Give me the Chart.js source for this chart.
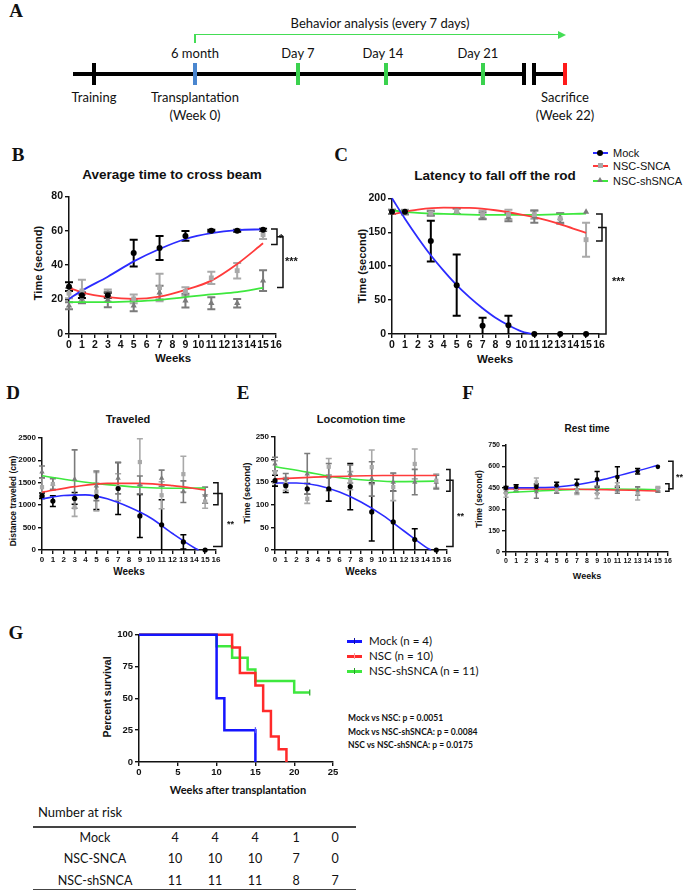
<!DOCTYPE html>
<html>
<head>
<meta charset="utf-8">
<title>Behavior and survival after NSC transplantation</title>
<script src="https://cdn.jsdelivr.net/npm/chart.js@4.4.1/dist/chart.umd.min.js"></script>
<style>
  body { margin: 0; background: #fff; }
  #page { position: relative; width: 685px; height: 892px; overflow: hidden; background: #fff; color: #111;
          font-family: "Liberation Sans", Arial, sans-serif; }
  #page canvas { position: absolute; }
  .t { position: absolute; white-space: nowrap; transform: translate(-50%, -50%); line-height: 1; }
  .l { position: absolute; white-space: nowrap; transform: translate(0, -50%); line-height: 1; }
  .v { position: absolute; white-space: nowrap; transform: translate(-50%, -50%) rotate(-90deg); line-height: 1; font-weight: bold; }
  .letter { font-family: "Liberation Serif", "Times New Roman", serif; font-weight: bold; font-size: 19px; }
  .cal { font-family: Lato, "Open Sans", sans-serif; }
  .b { font-weight: bold; }
  .bar { position: absolute; }
</style>
</head>
<body>
<div id="page">
  <!-- A: timeline -->
  <div class="t letter" style="left:16px;top:10px">A</div>
  <div class="t cal" style="left:380px;top:23px;font-size:13px">Behavior analysis (every 7 days)</div>
  <div class="bar" style="left:194px;top:34px;width:1.5px;height:9px;background:#44dd55"></div>
  <div class="bar" style="left:194px;top:33.5px;width:366px;height:1.5px;background:#44dd55"></div>
  <div class="bar" style="left:558px;top:30.5px;width:0;height:0;border-top:4px solid transparent;border-bottom:4px solid transparent;border-left:8px solid #44dd55"></div>
  <div class="t cal" style="left:195px;top:53px;font-size:13px">6 month</div>
  <div class="t cal" style="left:298px;top:53px;font-size:13px">Day 7</div>
  <div class="t cal" style="left:383px;top:53px;font-size:13px">Day 14</div>
  <div class="t cal" style="left:478px;top:53px;font-size:13px">Day 21</div>
  <div class="bar" style="left:73px;top:72px;width:452px;height:4px;background:#000"></div>
  <div class="bar" style="left:532px;top:72px;width:33px;height:4px;background:#000"></div>
  <div class="bar" style="left:92px;top:63px;width:4px;height:22px;background:#000"></div>
  <div class="bar" style="left:193px;top:63px;width:4px;height:22px;background:#4a86cf"></div>
  <div class="bar" style="left:296px;top:63px;width:4px;height:22px;background:#3ad24e"></div>
  <div class="bar" style="left:384px;top:63px;width:4px;height:22px;background:#3ad24e"></div>
  <div class="bar" style="left:481px;top:63px;width:4px;height:22px;background:#3ad24e"></div>
  <div class="bar" style="left:522px;top:63px;width:4px;height:22px;background:#000"></div>
  <div class="bar" style="left:532px;top:63px;width:4px;height:22px;background:#000"></div>
  <div class="bar" style="left:563px;top:63px;width:4px;height:22px;background:#ff1a1a"></div>
  <div class="t cal" style="left:94px;top:97px;font-size:13px">Training</div>
  <div class="t cal" style="left:195px;top:97px;font-size:13px">Transplantation</div>
  <div class="t cal" style="left:195px;top:115px;font-size:13px">(Week 0)</div>
  <div class="t cal" style="left:565px;top:97px;font-size:13px">Sacrifice</div>
  <div class="t cal" style="left:565px;top:115px;font-size:13px">(Week 22)</div>

  <!-- panel letters, titles, axis titles -->
  <div class="t letter" style="left:18px;top:154px">B</div>
  <div class="t letter" style="left:341px;top:154px">C</div>
  <div class="t letter" style="left:13px;top:392px">D</div>
  <div class="t letter" style="left:243px;top:392px">E</div>
  <div class="t letter" style="left:468px;top:392px">F</div>
  <div class="t letter" style="left:16px;top:632px">G</div>

  <div class="t b" style="left:172px;top:175px;font-size:13.5px">Average time to cross beam</div>
  <div class="t b" style="left:495px;top:176px;font-size:13.5px">Latency to fall off the rod</div>
  <div class="t b" style="left:128px;top:419px;font-size:11px">Traveled</div>
  <div class="t b" style="left:361px;top:419px;font-size:11px">Locomotion time</div>
  <div class="t b" style="left:587px;top:429px;font-size:10px">Rest time</div>

  <div class="v" style="left:38px;top:263px;font-size:11px">Time (second)</div>
  <div class="v" style="left:362px;top:266px;font-size:11px">Time (second)</div>
  <div class="v" style="left:13px;top:501px;font-size:8.5px">Distance traveled (cm)</div>
  <div class="v" style="left:247px;top:493px;font-size:9px">Time (second)</div>
  <div class="v" style="left:479px;top:499px;font-size:8.5px">Time (second)</div>
  <div class="v" style="left:107px;top:697px;font-size:10.5px">Percent survival</div>

  <div class="t b" style="left:173px;top:359px;font-size:11.5px">Weeks</div>
  <div class="t b" style="left:495px;top:360px;font-size:11.5px">Weeks</div>
  <div class="t b" style="left:129px;top:572px;font-size:10px">Weeks</div>
  <div class="t b" style="left:361px;top:572px;font-size:10px">Weeks</div>
  <div class="t b" style="left:587px;top:576px;font-size:9px">Weeks</div>
  <div class="t cal b" style="left:238px;top:789px;font-size:11px">Weeks after transplantation</div>

  <!-- C legend -->
  <div class="bar" style="left:593px;top:152.3px;width:15px;height:1.5px;background:#2b2bff"></div>
  <div class="bar" style="left:597px;top:150px;width:6px;height:6px;border-radius:50%;background:#000"></div>
  <div class="l" style="left:613px;top:153px;font-size:11px">Mock</div>
  <div class="bar" style="left:593px;top:165.3px;width:15px;height:1.5px;background:#ff3b3b"></div>
  <div class="bar" style="left:597.5px;top:163px;width:5px;height:5px;background:#a9a9a9"></div>
  <div class="l" style="left:613px;top:166px;font-size:11px">NSC-SNCA</div>
  <div class="bar" style="left:593px;top:180.3px;width:15px;height:1.5px;background:#3ee83e"></div>
  <div class="bar" style="left:597px;top:176.5px;width:0;height:0;border-left:3px solid transparent;border-right:3px solid transparent;border-bottom:5px solid #7b7b7b"></div>
  <div class="l" style="left:613px;top:181px;font-size:11px">NSC-shSNCA</div>

  <!-- G legend and statistics -->
  <div class="bar" style="left:347px;top:640px;width:15px;height:2.5px;background:#1515ff"></div>
  <div class="bar" style="left:354px;top:638px;width:1.2px;height:6px;background:#1010a0"></div>
  <div class="l cal" style="left:369px;top:641px;font-size:11.5px">Mock (n = 4)</div>
  <div class="bar" style="left:347px;top:655px;width:15px;height:2.5px;background:#ff2a2a"></div>
  <div class="bar" style="left:354px;top:653px;width:1.2px;height:6px;background:#ff9a9a"></div>
  <div class="l cal" style="left:369px;top:656px;font-size:11.5px">NSC (n = 10)</div>
  <div class="bar" style="left:347px;top:670px;width:15px;height:2.5px;background:#3ee83e"></div>
  <div class="bar" style="left:354px;top:668px;width:1.2px;height:6px;background:#2a9a2a"></div>
  <div class="l cal" style="left:369px;top:671px;font-size:11.5px">NSC-shSNCA (n = 11)</div>
  <div class="l cal b" style="left:348px;top:718px;font-size:8.5px">Mock vs NSC: p = 0.0051</div>
  <div class="l cal b" style="left:348px;top:731.5px;font-size:8.5px">Mock vs NSC-shSNCA: p = 0.0084</div>
  <div class="l cal b" style="left:348px;top:744.5px;font-size:8.5px">NSC vs NSC-shSNCA: p = 0.0175</div>

  <!-- number at risk -->
  <div class="l cal" style="left:38px;top:812px;font-size:13px">Number at risk</div>
  <div class="bar" style="left:33px;top:826px;width:323px;height:1.5px;background:#444"></div>
  <div class="bar" style="left:33px;top:888.5px;width:323px;height:1.5px;background:#444"></div>
  <div id="riskTable"></div>

  <canvas id="beamChart"></canvas>
  <canvas id="rodChart"></canvas>
  <canvas id="distChart"></canvas>
  <canvas id="locoChart"></canvas>
  <canvas id="restChart"></canvas>
  <canvas id="survChart"></canvas>
</div>

<script>
// weeks at which behavior was tested
const weeks = [0, 1, 3, 5, 7, 9, 11, 13, 15];

// B - average time to cross beam (s)
const beamMock = [27.5, 22.5, 22.5, 47, 50, 57, 60, 60, 60.5];
const beamMockErr = [2.5, 1.6, 1.5, 7.8, 7, 2.8, 0.6, 0.6, 0.6];
const beamSnca = [23.7, 25, 22.3, 20.4, 27, 24.7, 32.6, 36.8, 57.7];
const beamSncaErr = [3, 6.5, 3.5, 2.5, 8, 2.5, 3.5, 4.5, 2.5];
const beamSh = [16.4, 20.4, 20, 16.4, 24, 19.4, 17.9, 17.9, 31];
const beamShErr = [2, 2.5, 4.5, 3.2, 4, 4, 3.5, 2.5, 6];
const beamFitMock = [20.4, 25.2, 33.3, 42.2, 49.4, 55.2, 58.6, 60.4, 60.8];
const beamFitSnca = [26.8, 24.2, 21.4, 20.4, 21.7, 25.6, 31, 40.7, 52.7];
const beamFitSh = [18.5, 18.5, 18.5, 18.9, 19.8, 21.4, 23, 24.3, 26.8];

// C - latency to fall off the rod (s)
const rodMock = [180, 180, 137, 72, 12, 13, 0, 0, 0];
const rodMockErr = [0, 0, 30, 45, 12, 14, 0, 0, 0];
const rodSnca = [180, 180, 178, 181, 176, 176, 176, 170, 139];
const rodSncaErr = [3, 3, 4, 4, 6, 7, 6, 8, 25];
const rodSh = [180, 179, 178, 181, 174, 172, 173, 171, 180];
const rodShErr = [3, 3, 3, 4, 5, 6, 9, 7, 0];
const rodFitMockWeeks = [0, 1, 2, 3, 4, 5, 6, 7, 8, 9, 10, 10.8];
const rodFitMock = [200, 170, 142, 116, 93, 72, 54, 38, 24, 13, 4, 0];
const rodFitWeeks = [0, 2, 4, 6, 8, 10, 12, 14, 15];
const rodFitSnca = [176.6, 183.4, 186.3, 185.8, 182.4, 176, 167.6, 155.4, 149];
const rodFitSh = [182, 178.5, 177, 176, 175.5, 175.5, 176, 177, 177.5];

// D - distance traveled (cm)
const distMock = [1210, 1090, 1150, 1190, 1370, 760, 560, 180, 0];
const distMockErr = [60, 120, 130, 290, 580, 480, 560, 160, 0];
const distSnca = [1400, 1470, 950, 1300, 1400, 1960, 1220, 1690, 1080];
const distSncaErr = [200, 130, 200, 430, 300, 520, 300, 400, 150];
const distSh = [1740, 1470, 1580, 1430, 1600, 1450, 1600, 1300, 1220];
const distShErr = [130, 120, 650, 330, 350, 200, 180, 240, 180];
const distFitMockWeeks = [0, 2, 4, 6, 8, 10, 12, 14, 14.4];
const distFitMock = [1140, 1213, 1228, 1140, 956, 713, 368, 51, 0];
const distFitWeeks = [0, 3, 6, 9, 12, 15];
const distFitSnca = [1287, 1412, 1485, 1485, 1434, 1338];
const distFitSh = [1654, 1544, 1456, 1397, 1375, 1382];

// E - locomotion time (s)
const locoMock = [153, 142, 135, 135, 140, 84, 62, 23, 0];
const locoMockErr = [12, 15, 12, 27, 51, 64, 68, 24, 0];
const locoSnca = [172, 146, 113, 184, 153, 183, 139, 190, 153];
const locoSncaErr = [25, 14, 10, 18, 20, 38, 30, 33, 15];
const locoSh = [190, 157, 168, 161, 168, 157, 150, 150, 150];
const locoShErr = [15, 12, 45, 30, 20, 38, 20, 28, 15];
const locoFitMockWeeks = [0, 2, 4, 6, 8, 10, 12, 14, 14.5];
const locoFitMock = [148, 148, 142.5, 128, 106, 77, 42, 7, 0];
const locoFitSncaWeeks = [0, 5, 10, 15];
const locoFitSnca = [157, 162, 164.5, 164.5];
const locoFitShWeeks = [0, 3, 5, 8, 11, 15];
const locoFitSh = [184, 172, 163, 155, 151, 152];

// F - rest time (s)
const restMock = [450, 457, 457, 469, 476, 511, 527, 567, 598];
const restMockErr = [10, 15, 20, 20, 35, 55, 72, 20, 0];
const restSnca = [410, 445, 490, 434, 434, 410, 457, 410, 445];
const restSncaErr = [25, 20, 30, 20, 30, 35, 30, 45, 15];
const restSh = [429, 438, 422, 438, 445, 438, 438, 429, 434];
const restShErr = [15, 15, 45, 25, 30, 25, 25, 30, 15];
const restFitMockWeeks = [0, 3, 5, 7, 9, 11, 13, 15];
const restFitMock = [450, 452, 457, 473, 499, 534, 570, 609];
const restFitSncaWeeks = [0, 7, 15];
const restFitSnca = [443, 441, 429];
const restFitShWeeks = [0, 5, 10, 15];
const restFitSh = [418, 434, 443, 438];

// G - Kaplan-Meier survival (%)
const survMockWeeks = [0, 10, 11, 15];
const survMock = [100, 50, 25, 0];
const survNscWeeks = [0, 12, 13, 15, 16, 17, 18, 19];
const survNsc = [100, 90, 70, 60, 40, 20, 10, 0];
const survShWeeks = [0, 10, 12, 14, 15, 20, 22];
const survSh = [100, 90.9, 81.8, 72.7, 63.6, 54.5, 54.5];

// number at risk
const riskGroups = ['Mock', 'NSC-SNCA', 'NSC-shSNCA'];
const riskCounts = [
  [4, 4, 4, 1, 0],
  [10, 10, 10, 7, 0],
  [11, 11, 11, 8, 7]
];

const BLUE = '#2b2bff', RED = '#ff3b3b', GREEN = '#3ee83e';
const MOCK_C = '#000', SNCA_C = '#a9a9a9', SH_C = '#7b7b7b';
const FONT = '"Liberation Sans", Arial, sans-serif';
Chart.defaults.font.family = FONT;

// error bars drawn under the markers
const errorBars = {
  id: 'errorBars',
  beforeDatasetsDraw(chart) {
    const { ctx } = chart;
    const x = chart.scales.x, y = chart.scales.y;
    chart.data.datasets.forEach(ds => {
      if (!ds.err) return;
      ctx.save();
      ctx.strokeStyle = ds.errColor;
      ctx.lineWidth = ds.errWidth;
      ds.data.forEach((p, j) => {
        const e = ds.err[j];
        if (!e) return;
        const px = x.getPixelForValue(p.x);
        const lowV = Math.max(0, p.y - e);
        const lo = y.getPixelForValue(lowV), hi = y.getPixelForValue(p.y + e);
        ctx.beginPath();
        ctx.moveTo(px, lo); ctx.lineTo(px, hi);
        ctx.moveTo(px - ds.capW, hi); ctx.lineTo(px + ds.capW, hi);
        if (lowV > 0) { ctx.moveTo(px - ds.capW, lo); ctx.lineTo(px + ds.capW, lo); }
        ctx.stroke();
      });
      ctx.restore();
    });
  }
};

// significance brackets on the right of a plot
const brackets = {
  id: 'brackets',
  afterDraw(chart, args, opts) {
    if (!opts || !opts.items) return;
    const { ctx, chartArea } = chart;
    const y = chart.scales.y;
    ctx.save();
    ctx.strokeStyle = '#111';
    ctx.lineWidth = opts.width || 1.5;
    opts.items.forEach(b => {
      const x = chartArea.right + b.dx;
      const y1 = y.getPixelForValue(b.top), y2 = y.getPixelForValue(b.bottom);
      ctx.beginPath();
      ctx.moveTo(x - b.tick, y1); ctx.lineTo(x, y1); ctx.lineTo(x, y2); ctx.lineTo(x - b.tick, y2);
      ctx.stroke();
    });
    ctx.fillStyle = '#111';
    ctx.font = 'bold ' + opts.size + 'px ' + FONT;
    ctx.textBaseline = 'alphabetic';
    opts.labels.forEach(l => {
      ctx.fillText(l.text, chartArea.right + l.dx, y.getPixelForValue(l.value) + opts.size * 0.58);
    });
    ctx.restore();
  }
};

Chart.register(errorBars, brackets);

function sizeCanvas(cv, b) {
  const left = b.x0 - b.yw, top = b.top - b.pt;
  const w = Math.round(b.x1 + b.pr - left), h = Math.round(b.bot + b.xh - top);
  cv.width = w; cv.height = h;
  cv.style.left = left + 'px'; cv.style.top = top + 'px';
  cv.style.width = w + 'px'; cv.style.height = h + 'px';
}

function axis(opts) {
  return {
    type: 'linear', min: opts.min, max: opts.max,
    afterFit: opts.fit,
    ticks: { stepSize: opts.step, autoSkip: false, maxRotation: 0, padding: opts.pad || 1,
             color: '#111', font: { size: opts.size, weight: 'bold' },
             callback: v => String(v) },
    grid: { drawOnChartArea: false, drawTicks: true, tickLength: opts.tick || 4, color: '#111', lineWidth: 1.4 },
    border: { display: true, color: '#111', width: 1.5 }
  };
}

function xy(xs, ys) {
  return xs.map((w, i) => ({ x: w, y: ys[i] }));
}

function behaviorChart(id, box, yRange, groups, fits, marks, look) {
  const cv = document.getElementById(id);
  sizeCanvas(cv, box);
  const datasets = [];
  groups.forEach(g => datasets.push({
    data: xy(weeks, g.mean), err: g.err, errColor: g.color, errWidth: look.errWidth, capW: look.cap,
    pointStyle: g.style, pointRadius: look.r * (g.k || 1), backgroundColor: g.color, borderColor: g.color,
    borderWidth: 0, showLine: false, clip: false
  }));
  fits.forEach(f => datasets.push({
    data: xy(f.x, f.y), showLine: true, pointRadius: 0, borderColor: f.color, borderWidth: look.lw,
    cubicInterpolationMode: 'monotone', fill: false, clip: false
  }));
  new Chart(cv, {
    type: 'scatter',
    data: { datasets },
    options: {
      responsive: false, animation: false, events: [],
      layout: { autoPadding: false, padding: { top: box.pt, right: box.pr, left: 0, bottom: 0 } },
      plugins: { legend: { display: false }, tooltip: { enabled: false }, brackets: marks },
      scales: {
        x: axis({ min: 0, max: 16, step: 1, size: look.xSize, fit: s => { s.height = box.xh; } }),
        y: axis({ min: 0, max: yRange[0], step: yRange[1], size: look.ySize, pad: 2, fit: s => { s.width = box.yw; } })
      }
    }
  });
}

const bigLook = { r: 3, errWidth: 2, cap: 4, lw: 1.8, xSize: 10.5, ySize: 10.5 };
const midLook = { r: 2.6, errWidth: 1.6, cap: 3, lw: 1.6, xSize: 8, ySize: 8 };
const smallLook = { r: 2.3, errWidth: 1.5, cap: 2.6, lw: 1.5, xSize: 7, ySize: 7 };

behaviorChart('beamChart', { x0: 69, x1: 276, top: 196, bot: 334, yw: 40, pt: 8, pr: 26, xh: 18 }, [80, 20],
  [
    { mean: beamMock, err: beamMockErr, color: MOCK_C, style: 'circle' },
    { mean: beamSnca, err: beamSncaErr, color: SNCA_C, style: 'rect', k: 1.15 },
    { mean: beamSh, err: beamShErr, color: SH_C, style: 'triangle', k: 1.2 }
  ],
  [
    { x: weeks, y: beamFitMock, color: BLUE },
    { x: weeks, y: beamFitSnca, color: RED },
    { x: weeks, y: beamFitSh, color: GREEN }
  ],
  { size: 11,
    items: [ { top: 61, bottom: 52, dx: 1, tick: 6 }, { top: 56.5, bottom: 27, dx: 7, tick: 6 } ],
    labels: [ { text: '*', value: 57, dx: 3 }, { text: '***', value: 44, dx: 9 } ] },
  bigLook);

behaviorChart('rodChart', { x0: 392, x1: 599, top: 198, bot: 334, yw: 40, pt: 8, pr: 30, xh: 18 }, [200, 50],
  [
    { mean: rodMock, err: rodMockErr, color: MOCK_C, style: 'circle' },
    { mean: rodSnca, err: rodSncaErr, color: SNCA_C, style: 'rect', k: 1.15 },
    { mean: rodSh, err: rodShErr, color: SH_C, style: 'triangle', k: 1.2 }
  ],
  [
    { x: rodFitMockWeeks, y: rodFitMock, color: BLUE },
    { x: rodFitWeeks, y: rodFitSnca, color: RED },
    { x: rodFitWeeks, y: rodFitSh, color: GREEN }
  ],
  { size: 11,
    items: [ { top: 177, bottom: 137, dx: 3, tick: 6 }, { top: 157, bottom: 0, dx: 7, tick: 8 } ],
    labels: [ { text: '***', value: 81, dx: 13 } ] },
  bigLook);

behaviorChart('distChart', { x0: 42, x1: 216, top: 437, bot: 550, yw: 30, pt: 6, pr: 20, xh: 16 }, [2500, 500],
  [
    { mean: distMock, err: distMockErr, color: MOCK_C, style: 'circle' },
    { mean: distSnca, err: distSncaErr, color: SNCA_C, style: 'rect', k: 1.15 },
    { mean: distSh, err: distShErr, color: SH_C, style: 'triangle', k: 1.2 }
  ],
  [
    { x: distFitMockWeeks, y: distFitMock, color: BLUE },
    { x: distFitWeeks, y: distFitSnca, color: RED },
    { x: distFitWeeks, y: distFitSh, color: GREEN }
  ],
  { size: 9,
    items: [ { top: 1500, bottom: 1010, dx: 2, tick: 5 }, { top: 1258, bottom: 80, dx: 6, tick: 9 } ],
    labels: [ { text: '**', value: 620, dx: 11 } ] },
  midLook);

behaviorChart('locoChart', { x0: 275, x1: 447, top: 436, bot: 550, yw: 30, pt: 6, pr: 20, xh: 16 }, [250, 50],
  [
    { mean: locoMock, err: locoMockErr, color: MOCK_C, style: 'circle' },
    { mean: locoSnca, err: locoSncaErr, color: SNCA_C, style: 'rect', k: 1.15 },
    { mean: locoSh, err: locoShErr, color: SH_C, style: 'triangle', k: 1.2 }
  ],
  [
    { x: locoFitMockWeeks, y: locoFitMock, color: BLUE },
    { x: locoFitSncaWeeks, y: locoFitSnca, color: RED },
    { x: locoFitShWeeks, y: locoFitSh, color: GREEN }
  ],
  { size: 9,
    items: [ { top: 178, bottom: 130, dx: 3, tick: 4 }, { top: 154, bottom: 8, dx: 6, tick: 7 } ],
    labels: [ { text: '**', value: 79, dx: 10 } ] },
  midLook);

behaviorChart('restChart', { x0: 506, x1: 668, top: 445, bot: 552, yw: 26, pt: 6, pr: 17, xh: 14 }, [750, 150],
  [
    { mean: restMock, err: restMockErr, color: MOCK_C, style: 'circle' },
    { mean: restSnca, err: restSncaErr, color: SNCA_C, style: 'rect', k: 1.15 },
    { mean: restSh, err: restShErr, color: SH_C, style: 'triangle', k: 1.2 }
  ],
  [
    { x: restFitMockWeeks, y: restFitMock, color: BLUE },
    { x: restFitSncaWeeks, y: restFitSnca, color: RED },
    { x: restFitShWeeks, y: restFitSh, color: GREEN }
  ],
  { size: 9,
    items: [ { top: 480, bottom: 427, dx: 1, tick: 4 }, { top: 637, bottom: 445, dx: 5, tick: 5 } ],
    labels: [ { text: '**', value: 541, dx: 8 } ] },
  smallLook);

// G - survival curves
(function () {
  const box = { x0: 139, x1: 333, top: 633, bot: 762, yw: 32, pt: 6, pr: 8, xh: 16 };
  const cv = document.getElementById('survChart');
  sizeCanvas(cv, box);
  const step = (xs, ys, color) => ({
    data: xy(xs, ys), showLine: true, stepped: 'before', pointRadius: 0,
    borderColor: color, borderWidth: 2.5, fill: false, clip: false
  });
  const censor = (xs, ys, color) => ({
    data: xy(xs, ys), showLine: false, pointStyle: 'line', rotation: 90, pointRadius: 3,
    borderColor: color, borderWidth: 1.3, clip: false
  });
  new Chart(cv, {
    type: 'scatter',
    data: {
      datasets: [
        censor([15], [25], '#5555ff'),
        censor([22], [54.5], '#2fae2f'),
        step(survMockWeeks, survMock, '#1515ff'),
        step(survNscWeeks, survNsc, '#ff2a2a'),
        step(survShWeeks, survSh, GREEN)
      ]
    },
    options: {
      responsive: false, animation: false, events: [],
      layout: { autoPadding: false, padding: { top: box.pt, right: box.pr, left: 0, bottom: 0 } },
      plugins: { legend: { display: false }, tooltip: { enabled: false } },
      scales: {
        x: axis({ min: 0, max: 25, step: 5, size: 9.5, fit: s => { s.height = box.xh; } }),
        y: axis({ min: 0, max: 100, step: 25, size: 9.5, pad: 2, fit: s => { s.width = box.yw; } })
      }
    }
  });
})();

// number-at-risk table
(function () {
  const holder = document.getElementById('riskTable');
  const colX = [175, 215, 255, 296, 335];
  const rowY = [837.5, 859, 880.5];
  let html = '';
  riskGroups.forEach((g, i) => {
    html += `<div class="t cal" style="left:95px;top:${rowY[i]}px;font-size:12.5px">${g}</div>`;
    riskCounts[i].forEach((n, j) => {
      html += `<div class="t cal" style="left:${colX[j]}px;top:${rowY[i]}px;font-size:12.5px">${n}</div>`;
    });
  });
  holder.innerHTML = html;
})();
</script>
</body>
</html>
